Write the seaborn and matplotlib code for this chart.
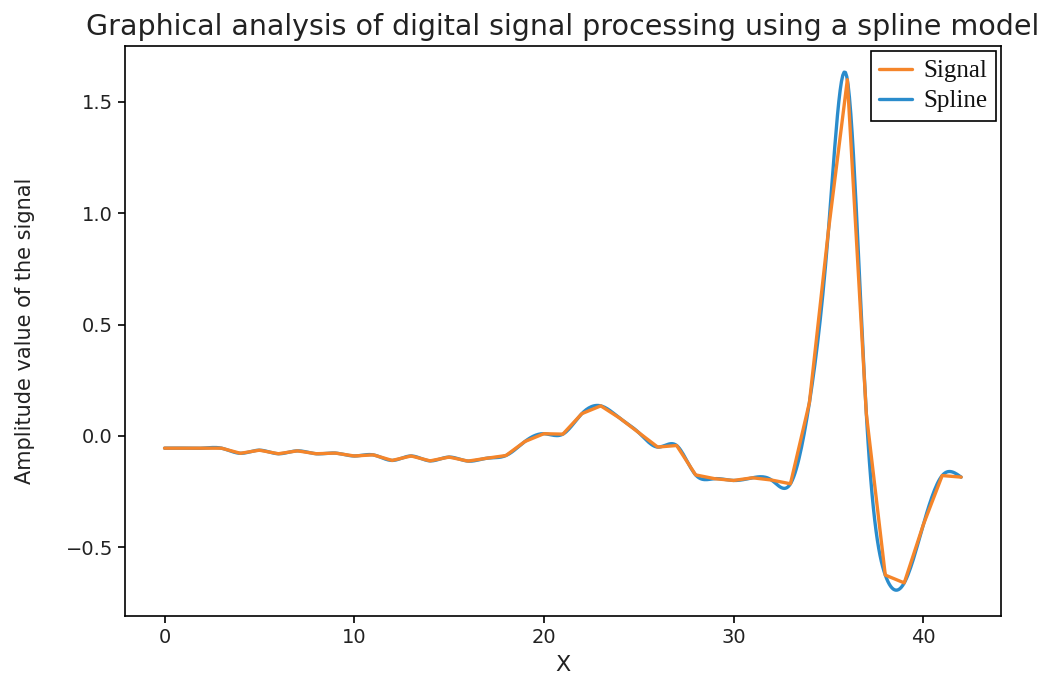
import numpy as np
import pandas as pd
import seaborn as sns
import matplotlib
matplotlib.use("Agg")
import matplotlib.pyplot as plt

x_samples = list(range(43))
signal = [-0.055, -0.055, -0.055, -0.055, -0.078, -0.064, -0.080, -0.067,
          -0.080, -0.077, -0.090, -0.085, -0.110, -0.090, -0.112, -0.095,
          -0.113, -0.100, -0.088, -0.025, 0.010, 0.008, 0.100, 0.135,
          0.080, 0.015, -0.050, -0.043, -0.175, -0.192, -0.200, -0.188,
          -0.198, -0.215, 0.150, 0.920, 1.600, 0.100, -0.625, -0.660,
          -0.400, -0.178, -0.185]


def cubic_spline(x, y, n_fine=600):
    # natural cubic spline through the samples (uniform spacing)
    x = np.asarray(x, float)
    y = np.asarray(y, float)
    n = len(x)
    h = x[1] - x[0]
    A = np.zeros((n, n))
    b = np.zeros(n)
    A[0, 0] = 1
    A[-1, -1] = 1
    for i in range(1, n - 1):
        A[i, i - 1:i + 2] = [h, 4 * h, h]
        b[i] = 6.0 / h * (y[i + 1] - 2 * y[i] + y[i - 1])
    M = np.linalg.solve(A, b)
    xf = np.linspace(x[0], x[-1], n_fine)
    idx = np.clip(((xf - x[0]) // h).astype(int), 0, n - 2)
    t0 = xf - x[idx]
    t1 = x[idx + 1] - xf
    yf = (M[idx] * t1 ** 3 + M[idx + 1] * t0 ** 3) / (6 * h) \
        + (y[idx] / h - M[idx] * h / 6) * t1 \
        + (y[idx + 1] / h - M[idx + 1] * h / 6) * t0
    return xf, yf


xs, ys = cubic_spline(x_samples, signal)
df_signal = pd.DataFrame({"X": x_samples, "Amplitude": signal})
df_spline = pd.DataFrame({"X": xs, "Amplitude": ys})

sns.set_theme(style="ticks")
plt.rcParams["font.family"] = ["DejaVu Sans"]

fig = plt.figure(figsize=(10.57, 6.8), dpi=100)
ax = fig.add_axes([0.118, 0.094, 0.829, 0.838])

sns.lineplot(data=df_spline, x="X", y="Amplitude", ax=ax, color="#2a8ccc",
             linewidth=2.4, label="Spline")
sns.lineplot(data=df_signal, x="X", y="Amplitude", ax=ax, color="#f5852a",
             linewidth=2.4, label="Signal")

for s in ax.spines.values():
    s.set_color("black")
    s.set_linewidth(1.2)
ax.tick_params(axis="both", labelsize=14, colors="black", length=5, width=1.2,
               labelcolor="#222222")
ax.set_xticks([0, 10, 20, 30, 40])
ax.set_yticks([-0.5, 0.0, 0.5, 1.0, 1.5])
ax.set_yticklabels(["\u22120.5", "0.0", "0.5", "1.0", "1.5"])

ax.set_title("Graphical analysis of digital signal processing using a spline model",
             fontsize=20.5, color="#222222", pad=8)
ax.set_xlabel("X", fontsize=16, color="#222222", labelpad=6)
ax.set_ylabel("Amplitude value of the signal", fontsize=15, color="#222222",
              labelpad=22)

handles, labels = ax.get_legend_handles_labels()
order = [labels.index("Signal"), labels.index("Spline")]
leg = ax.legend([handles[i] for i in order], [labels[i] for i in order],
                loc="upper right", fancybox=False, edgecolor="black",
                framealpha=1, borderaxespad=0.2, handlelength=1.3,
                handletextpad=0.45, labelspacing=0.3, borderpad=0.35,
                prop={"family": "Liberation Serif", "size": 18})
leg.get_frame().set_linewidth(1.2)
for t in leg.get_texts():
    t.set_color("#111111")

fig.savefig("out.png", dpi=100)
